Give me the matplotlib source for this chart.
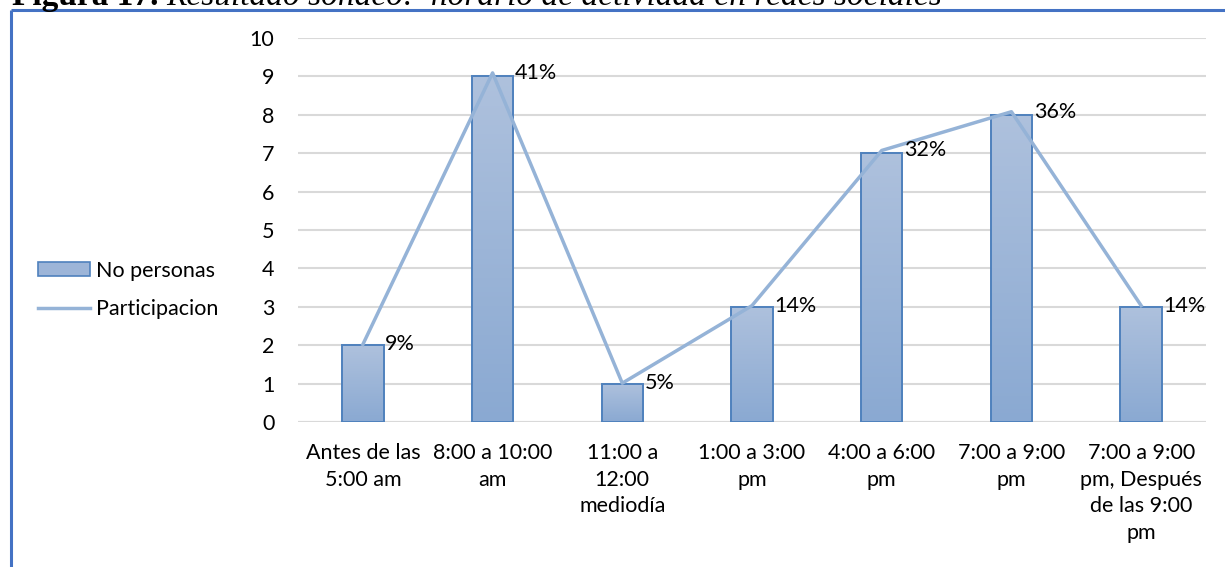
import matplotlib
matplotlib.use("Agg")
import matplotlib.pyplot as plt
import numpy as np
from matplotlib.patches import Rectangle
from matplotlib.lines import Line2D
from matplotlib.colors import LinearSegmentedColormap

# Survey data: time slots, number of people and share of participation
categorias = [
    "Antes de las\n5:00 am",
    "8:00 a 10:00\nam",
    "11:00 a\n12:00\nmediodía",
    "1:00 a 3:00\npm",
    "4:00 a 6:00\npm",
    "7:00 a 9:00\npm",
    "7:00 a 9:00\npm, Después\nde las 9:00\npm",
]
personas = [2, 9, 1, 3, 7, 8, 3]
participacion = [0.0909, 0.4091, 0.0455, 0.1364, 0.3182, 0.3636, 0.1364]
etiquetas_pct = ["9%", "41%", "5%", "14%", "32%", "36%", "14%"]
y_ticks = list(range(0, 11))

W, H = 1225, 567
fig = plt.figure(figsize=(W / 100, H / 100), dpi=100)
plt.rcParams["font.family"] = ["Lato", "DejaVu Sans"]
FS = 15.5

# outer frame (only top and left edges fall inside the canvas)
fig.add_artist(Line2D([11 / W, 11 / W], [0, 1 - 10 / H], transform=fig.transFigure,
                      color="#4472C4", lw=2.2, solid_capstyle="butt"))
fig.add_artist(Line2D([11 / W, 1], [1 - 10 / H, 1 - 10 / H], transform=fig.transFigure,
                      color="#4472C4", lw=2.2, solid_capstyle="butt"))

# caption above the frame
renderer = fig.canvas.get_renderer()
t1 = fig.text(12 / W, 1 - 5 / H, "Figura 17.", family="Liberation Serif",
              fontweight="bold", fontsize=24, va="baseline", ha="left")
bb = t1.get_window_extent(renderer)
fig.text(bb.x1 / W + 8 / W, 1 - 5 / H, "Resultado sondeo:  horario de actividad en redes sociales",
         family="Liberation Serif", style="italic", fontsize=24, va="baseline", ha="left")

ax = fig.add_axes([298 / W, 1 - 422 / H, (1206 - 298) / W, (422 - 38) / H])
ax2 = ax.twinx()

x = np.arange(len(categorias))
bw = 0.32
cmap = LinearSegmentedColormap.from_list("barra", ["#8AA9D2", "#AEC1DD"])
grad = np.linspace(0, 1, 256).reshape(-1, 1)

bars = ax.bar(x, personas, width=bw, facecolor="none", edgecolor="#4F81BD",
              linewidth=1.4, zorder=3)
for b in bars:
    x0, y0 = b.get_x(), b.get_y()
    im = ax.imshow(grad, cmap=cmap, origin="lower", aspect="auto",
                   extent=[x0, x0 + b.get_width(), y0, y0 + b.get_height()], zorder=2)
    im.set_clip_path(b)

ax.set_xlim(-0.5, len(categorias) - 0.5)
ax.set_ylim(0, 10)
ax.set_yticks(y_ticks)
ax.set_xticks(x)
ax.set_xticklabels(categorias, fontsize=FS, linespacing=1.42)
ax.tick_params(axis="y", length=0, pad=17, labelsize=FS)
ax.tick_params(axis="x", length=0, pad=15)
ax.grid(axis="y", color="#D9D9D9", lw=1.5, zorder=0)
ax.set_axisbelow(True)
for s in ax.spines.values():
    s.set_visible(False)
ax.axhline(0, color="#D9D9D9", lw=1.5, zorder=1)

# participation line on a hidden secondary scale
ax2.set_ylim(0, 0.45)
ax2.plot(x, participacion, color="#95B3D7", lw=2.5, zorder=4)
for xi, p, lab in zip(x, participacion, etiquetas_pct):
    ax2.annotate(lab, (xi, p), xytext=(16, 0), textcoords="offset points",
                 va="center", ha="left", fontsize=FS, color="black", zorder=5)
ax2.set_yticks([])
for s in ax2.spines.values():
    s.set_visible(False)
ax.set_zorder(ax2.get_zorder() - 1)
ax2.patch.set_visible(False)

# legend on the left
h_bar = Rectangle((0, 0), 1, 1, facecolor="#9DB5D8", edgecolor="#4F81BD", lw=1.2)
h_line = Line2D([], [], color="#95B3D7", lw=2.5)
fig.legend([h_bar, h_line], ["No personas", "Participacion"], loc="center left",
           bbox_to_anchor=(38 / W, 1 - 290 / H), frameon=False, fontsize=FS,
           handlelength=2.4, handleheight=0.6, handletextpad=0.3, labelspacing=0.85,
           borderpad=0, borderaxespad=0)

fig.savefig("out.png", dpi=100)
